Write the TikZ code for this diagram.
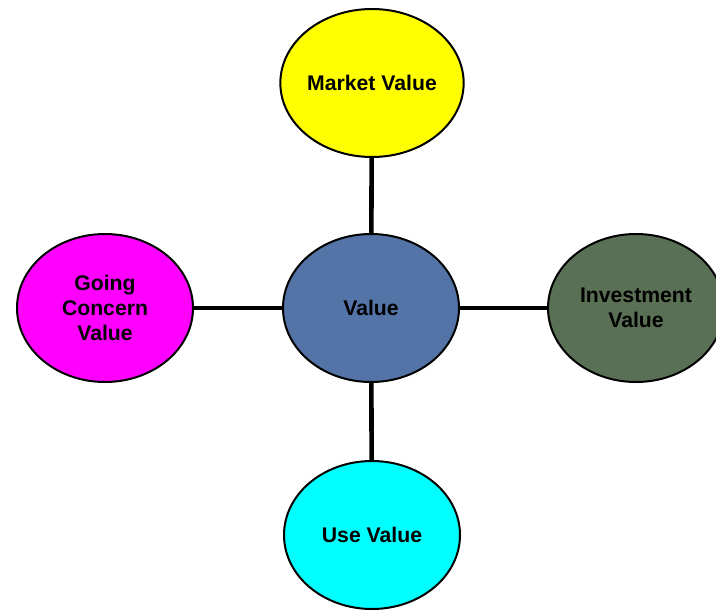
\documentclass[tikz,border=0pt]{standalone}
\usepackage{fontspec}
\setmainfont{Liberation Sans}
\usepackage{tikz}
\usetikzlibrary{shapes.geometric}

\definecolor{valblue}{RGB}{84,116,168}
\definecolor{invgreen}{RGB}{90,112,84}
\definecolor{mktyellow}{RGB}{255,255,0}
\definecolor{usecyan}{RGB}{0,255,255}
\definecolor{gomagenta}{RGB}{255,0,255}

\tikzset{
  bubble/.style={ellipse, draw=black, line width=1pt, minimum width=88pt,
    minimum height=74pt, inner sep=0pt, align=center,
    font=\fontsize{10.6}{12.5}\selectfont\bfseries},
  link/.style={line width=2.3pt}
}

\begin{document}
\begin{tikzpicture}[x=1pt,y=1pt]
    \useasboundingbox (0,0) rectangle (358,-305);

    % centre and the four around it
      \node[bubble, fill=valblue] (val) at (185.5,-154) {Value};
      \node[bubble, fill=mktyellow] (mkt) at (186,-41.5) {Market Value};
      \node[bubble, fill=usecyan] (use) at (186,-267.5) {Use Value};
      \node[bubble, fill=gomagenta] (going) at (52.5,-154) {Going\\Concern\\Value};
      \node[bubble, fill=invgreen] (inv) at (318,-154) {Investment\\Value};

    % spokes
      \draw[link] (val) -- (mkt);
      \draw[link] (val) -- (use);
      \draw[link] (val) -- (going);
      \draw[link] (val) -- (inv);
  \end{tikzpicture}
\end{document}
